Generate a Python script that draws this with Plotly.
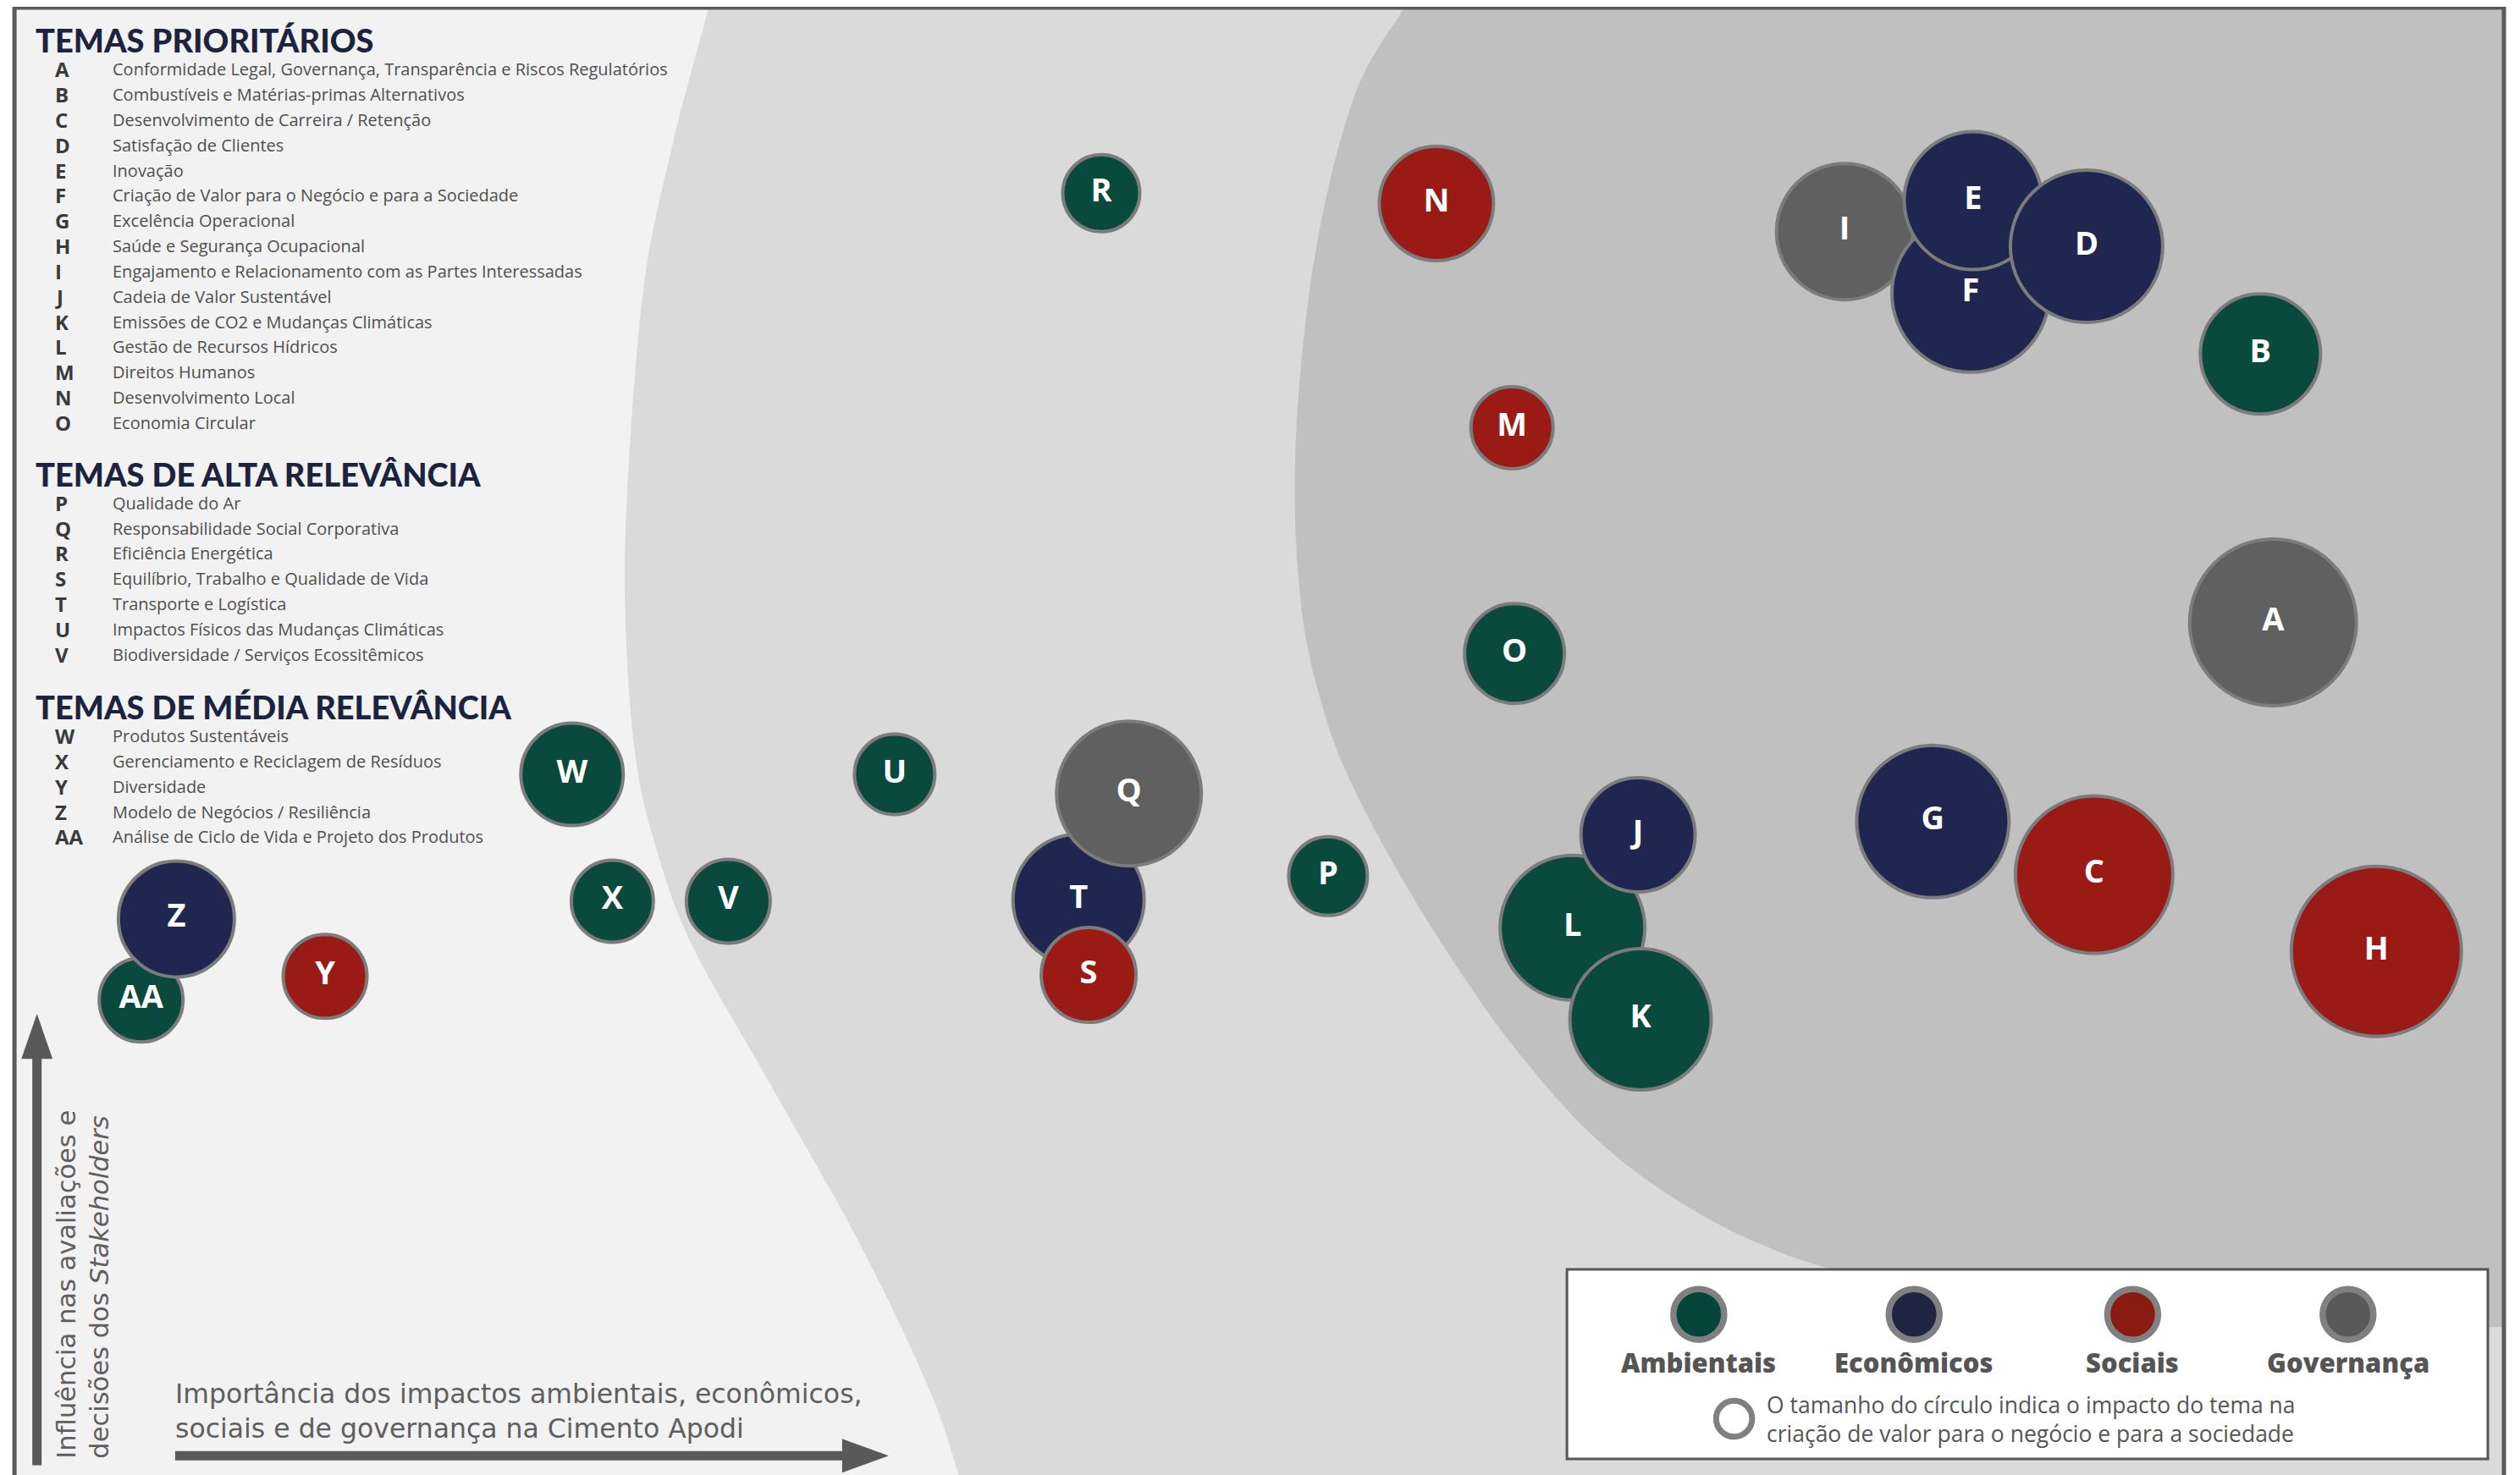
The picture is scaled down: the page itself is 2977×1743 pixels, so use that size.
import plotly.graph_objects as go

# ---------------- DATA ----------------
prio_codes = ["A", "B", "C", "D", "E", "F", "G", "H", "I", "J", "K", "L", "M", "N", "O"]
prio_desc = [
    "Conformidade Legal, Governança, Transparência e Riscos Regulatórios",
    "Combustíveis e Matérias-primas Alternativos",
    "Desenvolvimento de Carreira / Retenção",
    "Satisfação de Clientes",
    "Inovação",
    "Criação de Valor para o Negócio e para a Sociedade",
    "Excelência Operacional",
    "Saúde e Segurança Ocupacional",
    "Engajamento e Relacionamento com as Partes Interessadas",
    "Cadeia de Valor Sustentável",
    "Emissões de CO2 e Mudanças Climáticas",
    "Gestão de Recursos Hídricos",
    "Direitos Humanos",
    "Desenvolvimento Local",
    "Economia Circular",
]
alta_codes = ["P", "Q", "R", "S", "T", "U", "V"]
alta_desc = [
    "Qualidade do Ar",
    "Responsabilidade Social Corporativa",
    "Eficiência Energética",
    "Equilíbrio, Trabalho e Qualidade de Vida",
    "Transporte e Logística",
    "Impactos Físicos das Mudanças Climáticas",
    "Biodiversidade / Serviços Ecossitêmicos",
]
media_codes = ["W", "X", "Y", "Z", "AA"]
media_desc = [
    "Produtos Sustentáveis",
    "Gerenciamento e Reciclagem de Resíduos",
    "Diversidade",
    "Modelo de Negócios / Resiliência",
    "Análise de Ciclo de Vida e Projeto dos Produtos",
]
section_titles = ["TEMAS PRIORITÁRIOS", "TEMAS DE ALTA RELEVÂNCIA", "TEMAS DE MÉDIA RELEVÂNCIA"]

# bubbles (listed in drawing order, later ones on top)
tema = ["R", "N", "M", "O", "B", "A", "I", "F", "E", "D", "G", "C", "H", "W", "U",
        "T", "Q", "S", "P", "L", "J", "K", "X", "V", "AA", "Z", "Y"]
importancia = [43.7, 57.0, 60.0, 60.1, 89.7, 90.2, 73.2, 78.2, 78.3, 82.8, 76.7, 83.1, 94.3, 22.7, 35.5,
               42.8, 44.8, 43.2, 52.7, 62.4, 65.0, 65.1, 24.3, 28.9, 5.6, 7.0, 12.9]
influencia = [86.9, 86.2, 71.0, 55.7, 76.0, 57.8, 84.3, 80.1, 86.4, 83.3, 44.3, 40.7, 35.5, 47.5, 47.5,
              39.0, 46.2, 33.9, 40.6, 37.1, 43.4, 30.9, 38.9, 38.9, 32.2, 37.7, 33.8]
impacto = [9.1, 13.5, 9.7, 11.8, 14.2, 19.7, 16.1, 18.6, 16.3, 18.0, 18.0, 18.6, 20.1, 12.1, 9.5,
           15.5, 17.1, 11.2, 9.3, 17.1, 13.5, 16.7, 9.7, 9.9, 9.9, 13.7, 9.9]
dimensao = ["Ambientais", "Sociais", "Sociais", "Ambientais", "Ambientais", "Governança", "Governança",
            "Econômicos", "Econômicos", "Econômicos", "Econômicos", "Sociais", "Sociais", "Ambientais",
            "Ambientais", "Econômicos", "Governança", "Sociais", "Ambientais", "Ambientais", "Econômicos",
            "Ambientais", "Ambientais", "Ambientais", "Ambientais", "Econômicos", "Sociais"]

categorias = ["Ambientais", "Econômicos", "Sociais", "Governança"]
cores = {"Ambientais": "#0a4a3c", "Econômicos": "#1f2650", "Sociais": "#9a1b16", "Governança": "#606060"}
cores_legenda = {"Ambientais": "#04443a", "Econômicos": "#1f2542", "Sociais": "#8b1a12", "Governança": "#595959"}

# ---------------- LAYOUT HELPERS (reference-pixel geometry) ----------------
W, H = 2977, 1743
OW, OH = 1568.0, 918.0
PAGE_OFF = 8.0                      # page body margin, in screen px
OFF = PAGE_OFF * OW / W             # same offset in reference-overview units


def px(ox):
    return (ox - OFF) / OW


def py(oy):
    return 1 - (oy - OFF) / OH


def smooth_path(points, close_pts):
    pts = [(px(x), py(y)) for x, y in points]
    d = "M %.5f,%.5f" % pts[0]
    n = len(pts)
    for i in range(n - 1):
        p0 = pts[i - 1] if i > 0 else pts[i]
        p1 = pts[i]
        p2 = pts[i + 1]
        p3 = pts[i + 2] if i + 2 < n else pts[i + 1]
        c1 = (p1[0] + (p2[0] - p0[0]) / 6, p1[1] + (p2[1] - p0[1]) / 6)
        c2 = (p2[0] - (p3[0] - p1[0]) / 6, p2[1] - (p3[1] - p1[1]) / 6)
        d += " C %.5f,%.5f %.5f,%.5f %.5f,%.5f" % (c1 + c2 + p2)
    for x, y in close_pts:
        d += " L %.5f,%.5f" % (px(x), py(y))
    return d + " Z"


fig = go.Figure()

fig.add_trace(go.Scatter(
    x=importancia, y=influencia, mode="markers+text",
    text=tema, textposition="middle center",
    textfont=dict(family="Open Sans", size=38, color="white", weight="bold"),
    marker=dict(size=impacto, sizemode="diameter", sizeref=0.1,
                color=[cores[d] for d in dimensao],
                line=dict(color="#7c7c7c", width=4), opacity=1),
    customdata=dimensao,
    hovertemplate="%{text}<br>%{customdata}<extra></extra>",
    showlegend=False,
))

shapes = []
FR_L, FR_R, FR_T = 9.0, 1558.0, 4.7
shapes.append(dict(type="rect", xref="paper", yref="paper", x0=px(FR_L), x1=px(FR_R), y0=py(930), y1=py(FR_T),
                   fillcolor="#f2f2f2", line=dict(width=0), layer="below"))
mid_curve = [(441, FR_T), (419, 88), (401, 175), (391, 293), (389, 380), (395, 468), (408, 527),
             (431, 589), (480, 676), (536, 776), (580, 869), (600, 930)]
shapes.append(dict(type="path", xref="paper", yref="paper",
                   path=smooth_path(mid_curve, [(FR_R, 930), (FR_R, FR_T)]),
                   fillcolor="#dadada", line=dict(width=0), layer="below"))
in_curve = [(874, FR_T), (843, 59), (818, 160), (806, 281), (810, 380), (826, 450), (847, 500),
            (876, 553), (908, 604), (940, 649), (984, 700), (1030, 738), (1090, 772), (1160, 794),
            (1300, 812), (1450, 822), (FR_R, 826)]
shapes.append(dict(type="path", xref="paper", yref="paper",
                   path=smooth_path(in_curve, [(FR_R, FR_T)]),
                   fillcolor="#c0c0c0", line=dict(width=0), layer="below"))
shapes.append(dict(type="rect", xref="paper", yref="paper", x0=px(FR_L), x1=px(FR_R), y0=py(930), y1=py(FR_T),
                   fillcolor="rgba(0,0,0,0)", line=dict(color="#5a5a5a", width=5), layer="above"))

# axis arrows
ARW = "#595959"
shapes.append(dict(type="line", xref="paper", yref="paper", x0=px(23), x1=px(23), y0=py(912), y1=py(655),
                   line=dict(color=ARW, width=11), layer="above"))
shapes.append(dict(type="path", xref="paper", yref="paper",
                   path="M %.5f,%.5f L %.5f,%.5f L %.5f,%.5f Z" % (px(13.3), py(659), px(32.7), py(659), px(23), py(631)),
                   fillcolor=ARW, line=dict(width=0), layer="above"))
shapes.append(dict(type="line", xref="paper", yref="paper", x0=px(109), x1=px(528), y0=py(906), y1=py(906),
                   line=dict(color=ARW, width=11), layer="above"))
shapes.append(dict(type="path", xref="paper", yref="paper",
                   path="M %.5f,%.5f L %.5f,%.5f L %.5f,%.5f Z" % (px(524), py(895.5), px(524), py(916.5), px(553), py(906)),
                   fillcolor=ARW, line=dict(width=0), layer="above"))

# legend box
shapes.append(dict(type="rect", xref="paper", yref="paper", x0=px(975), x1=px(1548), y0=py(908), y1=py(790),
                   fillcolor="white", line=dict(color="#555555", width=3), layer="above"))
leg_x = [1057, 1191, 1327, 1461]
for cx, cat in zip(leg_x, categorias):
    r = 15.8
    shapes.append(dict(type="circle", xref="paper", yref="paper", x0=px(cx - r), x1=px(cx + r),
                       y0=py(818 + r), y1=py(818 - r), fillcolor=cores_legenda[cat],
                       line=dict(color="#808080", width=7.5), layer="above"))
r = 11.2
shapes.append(dict(type="circle", xref="paper", yref="paper", x0=px(1079 - r), x1=px(1079 + r),
                   y0=py(883 + r), y1=py(883 - r), fillcolor="white",
                   line=dict(color="#808080", width=7), layer="above"))

annotations = []
TITLE_FONT = dict(family="Lato", size=38, color="#1c2340", weight=900)
CODE_FONT = dict(family="Open Sans", size=24, color="#3a3a3a", weight="bold")
DESC_FONT = dict(family="Open Sans", size=20, color="#4f4f4f")
sections = [
    (section_titles[0], 25, prio_codes, prio_desc, 43.0),
    (section_titles[1], 295, alta_codes, alta_desc, 313.0),
    (section_titles[2], 440, media_codes, media_desc, 458.0),
]
STEP = 15.72
for title, ty, codes, descs, y0 in sections:
    annotations.append(dict(xref="paper", yref="paper", x=px(21), y=py(ty), text=title, showarrow=False,
                            xanchor="left", yanchor="middle", font=TITLE_FONT))
    for i, (c, d) in enumerate(zip(codes, descs)):
        yy = y0 + i * STEP
        annotations.append(dict(xref="paper", yref="paper", x=px(33), y=py(yy), text=c, showarrow=False,
                                xanchor="left", yanchor="middle", font=CODE_FONT))
        annotations.append(dict(xref="paper", yref="paper", x=px(69), y=py(yy), text=d,
                                showarrow=False, xanchor="left", yanchor="middle", font=DESC_FONT))

annotations.append(dict(xref="paper", yref="paper", x=px(52), y=py(909), textangle=-90,
                        text="Influência nas avaliações e<br>decisões dos <i>Stakeholders</i>",
                        showarrow=False, xanchor="center", yanchor="bottom", align="left",
                        font=dict(family="DejaVu Sans", size=30.5, color="#5f5f5f")))
annotations.append(dict(xref="paper", yref="paper", x=px(108), y=py(878),
                        text="Importância dos impactos ambientais, econômicos,<br>sociais e de governança na Cimento Apodi",
                        showarrow=False, xanchor="left", yanchor="middle", align="left",
                        font=dict(family="DejaVu Sans", size=31.5, color="#5f5f5f")))

for cx, cat in zip(leg_x, categorias):
    annotations.append(dict(xref="paper", yref="paper", x=px(cx), y=py(848), text=cat, showarrow=False,
                            xanchor="center", yanchor="middle",
                            font=dict(family="Open Sans", size=31, color="#555555", weight=800)))
annotations.append(dict(xref="paper", yref="paper", x=px(1098), y=py(883),
                        text="O tamanho do círculo indica o impacto do tema na<br>criação de valor para o negócio e para a sociedade",
                        showarrow=False, xanchor="left", yanchor="middle", align="left",
                        font=dict(family="Open Sans", size=26.5, color="#555555")))

# axis ranges compensate for the page offset so values map to the same screen position
xs = PAGE_OFF / W * 100
ys = PAGE_OFF / H * 100
fig.update_layout(
    width=W, height=H,
    margin=dict(l=0, r=0, t=0, b=0, pad=0),
    paper_bgcolor="white", plot_bgcolor="white",
    xaxis=dict(range=[xs, 100 + xs], visible=False, fixedrange=True),
    yaxis=dict(range=[-ys, 100 - ys], visible=False, fixedrange=True),
    shapes=shapes, annotations=annotations,
    showlegend=False,
)

fig.write_html("out.html")
